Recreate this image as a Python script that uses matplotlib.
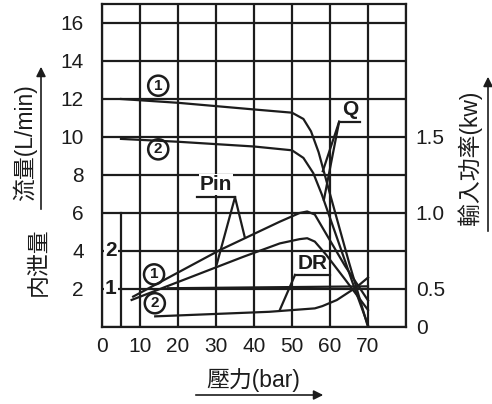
import matplotlib
matplotlib.use("Agg")
import matplotlib.pyplot as plt

plt.rcParams['font.family'] = ['Liberation Sans', 'Noto Sans CJK TC', 'DejaVu Sans']

# flow curves Q (L/min) vs pressure (bar)
q1_x = [5, 20, 40, 50, 53, 55, 57, 60, 65, 70]
q1_y = [12.0, 11.8, 11.45, 11.28, 10.95, 10.3, 9.2, 7.0, 3.4, 0.0]
q2_x = [5, 20, 40, 50, 53, 55.6, 57.8, 62, 66, 70]
q2_y = [9.9, 9.75, 9.5, 9.3, 8.9, 8.1, 7.0, 4.6, 2.3, 0.1]

# input power Pin (kW)
pin1_x = [8.2, 31, 46.8, 52, 54, 56, 59, 64, 70]
pin1_kw = [0.45, 0.756, 0.943, 1.0, 1.01, 0.99, 0.862, 0.65, 0.425]
pin2_x = [7.8, 37.2, 46.8, 52, 54, 56, 59, 64, 70]
pin2_kw = [0.428, 0.712, 0.8, 0.828, 0.834, 0.812, 0.725, 0.562, 0.362]

# internal leakage DR (L/min)
dr1_x = [17.4, 70]
dr1_y = [1.02, 1.07]
dr2_x = [14, 44, 56, 58, 61.8, 67, 70]
dr2_y = [0.28, 0.4, 0.49, 0.55, 0.71, 1.05, 1.3]

x_ticks = [0, 10, 20, 30, 40, 50, 60, 70, 80]
x_labels = ['0', '10', '20', '30', '40', '50', '60', '70', '']
y_ticks = [0, 2, 4, 6, 8, 10, 12, 14, 16]
y_labels = ['', '2', '4', '6', '8', '10', '12', '14', '16']
kw_ticks = [0.25, 0.5, 1.0, 1.5]
kw_labels = ['0', '0.5', '1.0', '1.5']
dr_ticks = [1, 2]

ink = '#1c1c1c'
lw = 1.6
white = dict(boxstyle='square,pad=0.05', fc='white', ec='none')

fig = plt.figure(figsize=(4.92, 4.04), dpi=100)
ax = fig.add_axes([102 / 492, 77 / 404, 304 / 492, 323 / 404])
ax.set_xlim(0, 80)
ax.set_ylim(0, 17)
ax.set_xticks(x_ticks)
ax.set_xticklabels(x_labels)
ax.set_yticks(y_ticks)
ax.set_yticklabels(y_labels)
ax.tick_params(length=0, labelsize=15, colors=ink, pad=7)
ax.tick_params(axis='y', pad=13)
ax.grid(True, color=ink, lw=lw)
for s in ax.spines.values():
    s.set_linewidth(lw)
    s.set_color(ink)

# leakage scale (1 L/min = 2 flow units)
ax.plot([5, 5], [0, 6], color=ink, lw=lw)
for d in dr_ticks:
    ax.text(2.3, d * 2, str(d), fontsize=15, fontweight='bold', ha='center', va='center',
            color=ink, bbox=white, zorder=3)

ax.plot(q1_x, q1_y, color=ink, lw=lw)
ax.plot(q2_x, q2_y, color=ink, lw=lw)
ax.plot(dr1_x, [v * 2 for v in dr1_y], color=ink, lw=lw)
ax.plot(dr2_x, [v * 2 for v in dr2_y], color=ink, lw=lw)

ax2 = ax.twinx()
ax2.set_ylim(0.25, 2.375)
ax2.set_yticks(kw_ticks)
ax2.set_yticklabels(kw_labels)
ax2.tick_params(length=0, labelsize=15, colors=ink, pad=7)
for s in ax2.spines.values():
    s.set_visible(False)
ax2.plot(pin1_x, pin1_kw, color=ink, lw=lw)
ax2.plot(pin2_x, pin2_kw, color=ink, lw=lw)

# circled numbers
circ = dict(boxstyle='circle,pad=0.2', fc='none', ec=ink, lw=1.8)
for (cx, cy, t) in [(14.8, 12.7, '1'), (14.8, 9.35, '2'), (13.7, 2.77, '1'), (13.9, 1.25, '2')]:
    ax.text(cx, cy, t, fontsize=11, fontweight='bold', ha='center', va='center',
            color=ink, bbox=circ)

# Q label
ax.text(65.4, 10.95, 'Q', fontsize=15, fontweight='bold', ha='center', va='bottom', color=ink)
ax.plot([62.7, 67.9], [10.8, 10.8], color=ink, lw=lw)
ax.plot([62.4, 58.1], [10.8, 8.2], color=ink, lw=lw)
ax.plot([62.4, 58.4], [10.8, 6.7], color=ink, lw=lw)

# Pin label
ax.text(30.0, 6.98, 'Pin', fontsize=15, fontweight='bold', ha='center', va='bottom',
        color=ink, bbox=white, zorder=3)
ax.plot([24.9, 35.0], [6.83, 6.83], color=ink, lw=lw, zorder=4)
ax.plot([35.0, 30.2], [6.83, 3.3], color=ink, lw=lw)
ax.plot([35.0, 37.6], [6.83, 4.7], color=ink, lw=lw)

# DR label
ax.text(55.4, 2.82, 'DR', fontsize=15, fontweight='bold', ha='center', va='bottom', color=ink)
ax.plot([50.8, 60.0], [2.74, 2.74], color=ink, lw=lw)
ax.plot([50.8, 46.8], [2.74, 0.9], color=ink, lw=lw)

# axis titles
fig.text(25 / 492, 1 - 143 / 404, '流量(L/min)', rotation=90, fontsize=16.5,
         ha='center', va='center', color=ink)
fig.text(38 / 492, 1 - 262 / 404, '内泄量', rotation=90, fontsize=16.5,
         ha='center', va='center', color=ink)
fig.text(470 / 492, 1 - 158 / 404, '輸入功率(kw)', rotation=90, fontsize=16.5,
         ha='center', va='center', color=ink)
fig.text(253 / 492, 1 - 380 / 404, '壓力(bar)', fontsize=16.5,
         ha='center', va='center', color=ink)

arrow = dict(arrowstyle='-|>', lw=1.2, color=ink, mutation_scale=14)
ax.annotate('', xy=(41 / 492, 1 - 64 / 404), xytext=(41 / 492, 1 - 212 / 404),
            xycoords='figure fraction', textcoords='figure fraction', arrowprops=arrow)
ax.annotate('', xy=(488 / 492, 1 - 74 / 404), xytext=(488 / 492, 1 - 234 / 404),
            xycoords='figure fraction', textcoords='figure fraction', arrowprops=arrow)
ax.annotate('', xy=(326 / 492, 1 - 395 / 404), xytext=(193 / 492, 1 - 395 / 404),
            xycoords='figure fraction', textcoords='figure fraction', arrowprops=arrow)

fig.savefig('out.png', dpi=100, facecolor='white')
